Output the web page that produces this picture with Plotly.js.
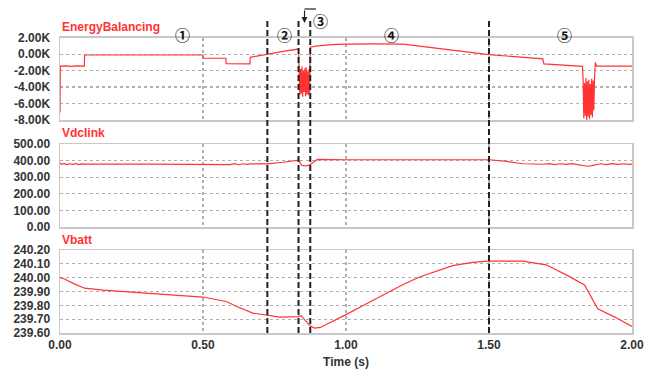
<!DOCTYPE html>
<html>
<head>
<meta charset="utf-8">
<script src="https://cdn.plot.ly/plotly-3.0.1.min.js"></script>
<style>
html,body{margin:0;padding:0;background:#fff;}
#chart{width:656px;height:374px;}
</style>
</head>
<body>
<div id="chart"></div>
<script>
// ---- Data ----
const tEnergy = [0, 0.001, 0.02, 0.04, 0.06, 0.085, 0.086, 0.5, 0.501, 0.58, 0.581, 0.62, 0.664, 0.665, 0.7, 0.725, 0.78, 0.834,
  0.836, 0.8385, 0.841, 0.8435, 0.846, 0.8485, 0.851, 0.8535, 0.856, 0.8585, 0.861, 0.8635, 0.866, 0.8685, 0.871, 0.873,
  0.875, 0.9, 0.95, 1.0, 1.1, 1.2, 1.3, 1.4, 1.5, 1.6, 1.688, 1.692, 1.75, 1.827,
  1.829, 1.8315, 1.834, 1.8365, 1.839, 1.8415, 1.844, 1.8465, 1.849, 1.8515, 1.854, 1.8565, 1.859, 1.8615, 1.864, 1.8665, 1.869,
  1.872, 1.876, 1.95, 2.0];
const energy = [-7100, -1450, -1420, -1480, -1430, -1460, -100, -100, -480, -500, -1150, -1200, -1180, -380, -150, 0, 330, 620,
  -1600, -5000, -1800, -4800, -1500, -5200, -2000, -4600, -1700, -5100, -1600, -4900, -2100, -5000, -1800, -4700,
  850, 1000, 1150, 1230, 1250, 1220, 800, 380, -50, -330, -580, -1180, -1270, -1480,
  -3000, -7800, -3500, -7500, -2900, -8000, -3300, -7600, -3100, -7900, -3600, -7400, -3000, -7700, -3200, -6800, -2800,
  -1000, -1450, -1460, -1450];

const tVdc = [0, 0.005, 0.015, 0.025, 0.035, 0.045, 0.055, 0.065, 0.075, 0.086, 0.3, 0.58, 0.595, 0.61, 0.625, 0.64, 0.655, 0.665,
  0.725, 0.78, 0.834, 0.845, 0.855, 0.865, 0.875, 0.9, 1.0, 1.5, 1.555, 1.617, 1.69, 1.71, 1.73, 1.75, 1.77, 1.79, 1.81,
  1.83, 1.845, 1.86, 1.87, 1.89, 1.91, 1.93, 1.95, 1.97, 1.99, 2.0];
const vdc = [388, 378, 382, 376, 381, 377, 382, 376, 380, 379, 379, 379, 376, 382, 375, 381, 377, 380,
  380, 390, 403, 372, 368, 370, 376, 407, 405, 405, 397, 381, 378, 382, 376, 381, 377, 382, 377,
  370, 366, 370, 375, 381, 376, 382, 377, 381, 377, 379];

const tBatt = [0, 0.016, 0.05, 0.086, 0.15, 0.255, 0.4, 0.5, 0.581, 0.62, 0.674, 0.727, 0.768, 0.834, 0.843, 0.875, 0.89, 0.91,
  0.942, 1.0, 1.07, 1.14, 1.2, 1.257, 1.32, 1.373, 1.443, 1.496, 1.618, 1.7, 1.77, 1.834, 1.88, 1.94, 2.0];
const vbatt = [240.00, 239.99, 239.955, 239.924, 239.91, 239.895, 239.875, 239.86, 239.828, 239.79, 239.744, 239.725, 239.715,
  239.718, 239.725, 239.65, 239.635, 239.64, 239.672, 239.733, 239.81, 239.888, 239.95, 240.005, 240.05, 240.087, 240.111,
  240.12, 240.12, 240.093, 240.02, 239.948, 239.775, 239.715, 239.648];

const eventTimes = [0.725, 0.834, 0.875, 1.5];
const phaseLabels = ['①', '②', '④', '⑤'];
const phaseTimes = [0.43, 0.785, 1.16, 1.765];
const phase3Label = '③';

const energyTicks = [-8000, -6000, -4000, -2000, 0, 2000];
const energyTickText = ['-8.00K', '-6.00K', '-4.00K', '-2.00K', '0.00K', '2.00K'];
const xTicks = [0, 0.5, 1.0, 1.5, 2.0];
const panelTitles = ['EnergyBalancing', 'Vdclink', 'Vbatt'];

// ---- Styling ----
const RED = '#ff3333';
const TXT = '#333333';
const tickFont = {family: 'Liberation Sans, Arial, sans-serif', size: 12, color: TXT, weight: 'bold'};
const lineStyle = {color: RED, width: 1.2};
const circFont = {family: 'Noto Sans CJK JP, DejaVu Sans, sans-serif', size: 15, color: '#111', weight: 'bold'};

const traces = [
  {x: tEnergy, y: energy, xaxis: 'x', yaxis: 'y', mode: 'lines', line: lineStyle, hoverinfo: 'none'},
  {x: tVdc, y: vdc, xaxis: 'x2', yaxis: 'y2', mode: 'lines', line: lineStyle, hoverinfo: 'none'},
  {x: tBatt, y: vbatt, xaxis: 'x3', yaxis: 'y3', mode: 'lines', line: lineStyle, hoverinfo: 'none'}
];

function xAx(anchor, showLabels) {
  return {
    anchor: anchor, range: [0, 2], tickvals: xTicks, ticktext: xTicks.map(v => v.toFixed(2)),
    showticklabels: showLabels, tickfont: tickFont, ticks: '',
    showgrid: true, gridcolor: '#b0b0b0', griddash: 'dot', gridwidth: 1.2,
    showline: true, linecolor: '#c8c8c8', linewidth: 1.5, mirror: true, zeroline: false,
    matches: anchor === 'y3' ? undefined : 'x3'
  };
}
function yAx(anchor, domain, extra) {
  return Object.assign({
    anchor: anchor, domain: domain, tickfont: tickFont, ticks: '', ticklabelstandoff: 6,
    showgrid: true, gridcolor: '#b0b0b0', griddash: 'dot', gridwidth: 1.2,
    showline: true, linecolor: '#c8c8c8', linewidth: 1.5, mirror: true, zeroline: false
  }, extra);
}

const H = 296, BOT = 333;
const py = y => (BOT - y) / H;

const shapes = eventTimes.map(t => ({
  type: 'line', xref: 'x3', yref: 'paper', x0: t, x1: t, y0: 0, y1: py(18),
  line: {color: '#222222', width: 2, dash: '6px,3px'}
}));
shapes.push({type: 'line', xref: 'x3', yref: 'paper', x0: 0.855, x1: 0.895, y0: py(9), y1: py(9),
  line: {color: '#222222', width: 1.2}});

const annotations = [];
phaseLabels.forEach((lab, i) => annotations.push({
  x: phaseTimes[i], xref: 'x3', y: py(22), yref: 'paper', text: lab, showarrow: false, font: circFont
}));
annotations.push({x: 0.912, xref: 'x3', y: py(8), yref: 'paper', text: phase3Label, showarrow: false, font: circFont});
annotations.push({x: 0.855, xref: 'x3', y: py(23), yref: 'paper', text: '', showarrow: true,
  ax: 0, ay: -14, arrowhead: 2, arrowsize: 1, arrowwidth: 1.2, arrowcolor: '#222222'});
const titleY = [27, 132.5, 240];
panelTitles.forEach((txt, i) => annotations.push({
  x: 0, xref: 'paper', xanchor: 'left', y: py(titleY[i]), yref: 'paper', yanchor: 'middle',
  text: txt, showarrow: false, font: {family: 'Liberation Sans, Arial, sans-serif', size: 12, color: RED, weight: 'bold'}
}));

const layout = {
  width: 656, height: 374,
  margin: {l: 60, r: 24, t: 37, b: 41},
  paper_bgcolor: '#ffffff', plot_bgcolor: '#ffffff',
  showlegend: false,
  xaxis: xAx('y', false),
  xaxis2: xAx('y2', false),
  xaxis3: Object.assign(xAx('y3', true), {
    title: {text: 'Time (s)', font: {family: 'Liberation Sans, Arial, sans-serif', size: 12, color: TXT, weight: 'bold'}, standoff: 6}
  }),
  yaxis: yAx('x', [py(120), py(37.7)], {range: [-8000, 2000], tickvals: energyTicks, ticktext: energyTickText}),
  yaxis2: yAx('x2', [py(227), py(144)], {range: [0, 500], dtick: 100, tickformat: '.2f'}),
  yaxis3: yAx('x3', [0, py(250)], {range: [239.6, 240.2], dtick: 0.1, tick0: 239.6, tickformat: '.2f'}),
  shapes: shapes,
  annotations: annotations
};

Plotly.newPlot('chart', traces, layout, {staticPlot: true, displayModeBar: false});
</script>
</body>
</html>
